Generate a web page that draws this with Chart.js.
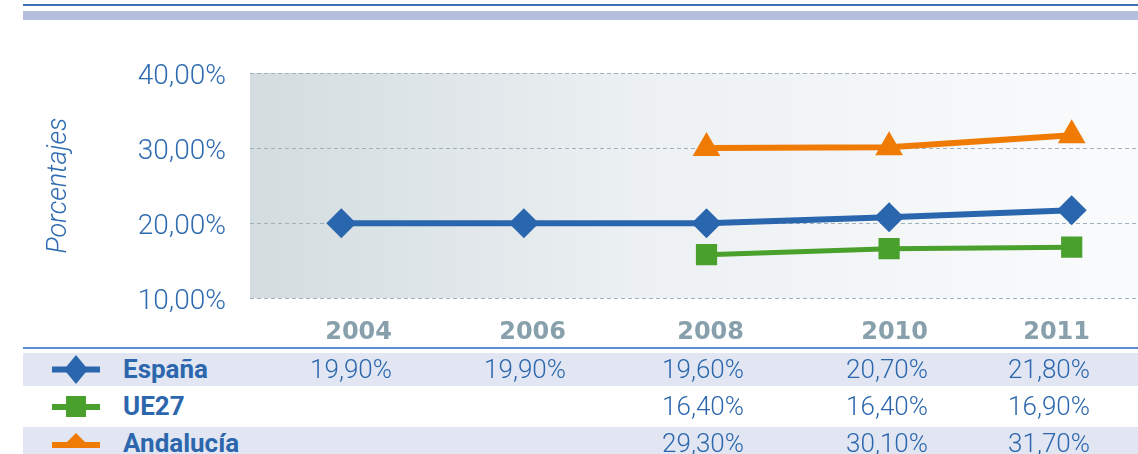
<!DOCTYPE html>
<html>
<head>
<meta charset="utf-8">
<script src="https://cdn.jsdelivr.net/npm/chart.js@4/dist/chart.umd.min.js"></script>
<style>
  body { margin: 0; width: 1138px; height: 454px; overflow: hidden; background: #fff; position: relative;
         font-family: Roboto, sans-serif; }
  #my-chart { position: absolute; left: 0; top: 0; }
  .topline { position: absolute; left: 23px; right: 0; top: 4px; height: 2px; background: #3d72b8; }
  .topband { position: absolute; left: 23px; right: 0; top: 11px; height: 9px; background: #b4bfde; }
  .tline { position: absolute; left: 23px; right: 0; top: 347px; height: 2px; background: #5b8fcf; }
  .row { position: absolute; left: 23px; right: 0; height: 33px; }
  .row.alt { background: #e1e6f2; }
  .cell { position: absolute; top: 0; height: 33px; line-height: 32px; text-align: right; width: 140px;
          font-size: 26px; font-weight: 300; color: #2c67ae; }
  .year { position: absolute; top: 313px; height: 36px; line-height: 36px; width: 140px; text-align: right;
          font-family: 'DejaVu Sans', sans-serif; font-weight: bold; font-size: 24px; color: #87a0ab; }
  .name { position: absolute; top: 0; left: 100px; height: 33px; line-height: 32px; font-weight: 700;
          font-size: 26px; color: #2c67ae; }
  .icon { position: absolute; left: 29px; top: -2px; }
</style>
</head>
<body>
<div class="topline"></div>
<div class="topband"></div>
<canvas id="my-chart" width="1163" height="339"></canvas>
<div class="tline"></div>
<div id="table"></div>

<script>
// data
const years = ['2004', '2006', '2008', '2010', '2011'];
const espana = [20.0, 20.0, 20.0, 20.8, 21.7];
const ue27 = [null, null, 15.8, 16.6, 16.8];
const andalucia = [null, null, 30.0, 30.1, 31.7];

// table texts under the chart
const espanaText = ['19,90%', '19,90%', '19,60%', '20,70%', '21,80%'];
const ue27Text = ['', '', '16,40%', '16,40%', '16,90%'];
const andaluciaText = ['', '', '29,30%', '30,10%', '31,70%'];
const seriesNames = ['España', 'UE27', 'Andalucía'];
const yMin = 10, yMax = 40, yStep = 10;

const blue = '#2a66ad', green = '#4aa02c', orange = '#ef7b04';
const fontFamily = "Roboto, sans-serif";

const plotBackground = {
   id: 'plotBackground',
   beforeDraw(chart) {
      const { ctx, chartArea } = chart;
      const g = ctx.createLinearGradient(chartArea.left, 0, chartArea.left + 888, 0);
      g.addColorStop(0, '#d3dcdf');
      g.addColorStop(0.45, '#edf1f3');
      g.addColorStop(1, '#fafbfc');
      ctx.save();
      ctx.fillStyle = g;
      ctx.fillRect(chartArea.left, chartArea.top, chartArea.right - chartArea.left, chartArea.bottom - chartArea.top);
      ctx.restore();
   }
};

const ctx = document.getElementById('my-chart').getContext('2d');

const chart = new Chart(ctx, {
   type: 'line',
   data: {
      labels: years,
      datasets: [
      {
         label: seriesNames[2],
         data: andalucia,
         borderColor: orange,
         backgroundColor: orange,
         borderWidth: 6,
         pointStyle: 'triangle',
         pointRadius: 16,
         pointBorderWidth: 0
      },
      {
         label: seriesNames[1],
         data: ue27,
         borderColor: green,
         backgroundColor: green,
         borderWidth: 5,
         pointStyle: 'rect',
         pointRadius: 15,
         pointBorderWidth: 0
      },
      {
         label: seriesNames[0],
         data: espana,
         borderColor: blue,
         backgroundColor: blue,
         borderWidth: 6,
         pointStyle: 'rectRot',
         pointRadius: 15,
         pointBorderWidth: 0
      }
      ]
   },
   options: {
      responsive: false,
      animation: false,
      layout: { autoPadding: false, padding: { top: 73, bottom: 1, left: 0, right: 0 } },
      plugins: { legend: { display: false }, tooltip: { enabled: false } },
      scales: {
         x: { display: false, offset: true },
         y: {
            min: yMin,
            max: yMax,
            afterFit(scale) { scale.width = 250; },
            ticks: {
               stepSize: yStep,
               padding: 24,
               labelOffset: 4,
               color: '#2f6bb0',
               font: { family: fontFamily, size: 28, weight: '300' },
               callback: v => v.toFixed(2).replace('.', ',') + '%'
            },
            grid: { color: '#9fb1bc', lineWidth: 1, drawTicks: false },
            border: { display: false, dash: [4, 3] },
            title: {
               display: true,
               text: 'Porcentajes',
               color: '#2f6bb0',
               font: { family: fontFamily, size: 27, style: 'italic', weight: '300' },
               padding: { top: 43, bottom: 0 }
            }
         }
      }
   },
   plugins: [plotBackground]
}); // closes chart

// table below the chart
const colRight = [392, 566, 744, 928, 1090];
const rowTop = [353, 390, 427];
const table = document.getElementById('table');

years.forEach((y, i) => {
   const d = document.createElement('div');
   d.className = 'year';
   d.style.left = (colRight[i] - 140) + 'px';
   d.textContent = y;
   table.appendChild(d);
});

const icons = [
   `<svg class="icon" width="50" height="37"><rect x="0" y="15.5" width="48" height="6" fill="${blue}"/><polygon points="24,4 36,18.5 24,33 12,18.5" fill="${blue}"/></svg>`,
   `<svg class="icon" width="50" height="37"><rect x="0" y="16" width="48" height="6" fill="${green}"/><rect x="14" y="8" width="20" height="21" fill="${green}"/></svg>`,
   `<svg class="icon" width="50" height="37"><rect x="0" y="17" width="48" height="6" fill="${orange}"/><polygon points="24,8 36,20 12,20" fill="${orange}"/></svg>`
];
const texts = [espanaText, ue27Text, andaluciaText];

seriesNames.forEach((name, r) => {
   const row = document.createElement('div');
   row.className = 'row' + (r % 2 === 0 ? ' alt' : '');
   row.style.top = rowTop[r] + 'px';
   row.innerHTML = icons[r] + `<div class="name">${name}</div>`;
   texts[r].forEach((t, i) => {
      const c = document.createElement('div');
      c.className = 'cell';
      c.style.left = (colRight[i] - 140 - 23) + 'px';
      c.textContent = t;
      row.appendChild(c);
   });
   table.appendChild(row);
});
</script>
</body>
</html>
